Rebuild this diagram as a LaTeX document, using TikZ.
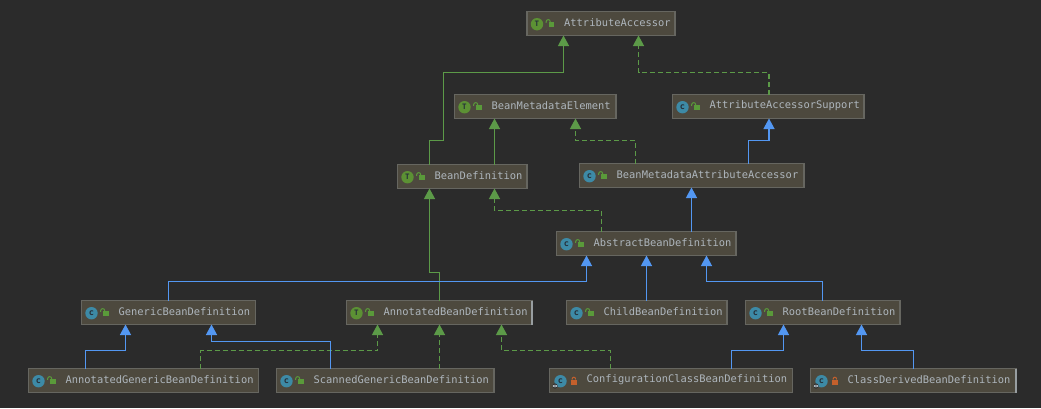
\documentclass[tikz,border=0pt]{standalone}
\usepackage{fontspec}
\setmonofont{DejaVu Sans Mono}
\usetikzlibrary{arrows.meta}
\definecolor{canvas}{HTML}{2B2B2B}
\definecolor{boxfill}{HTML}{4D493E}
\definecolor{boxline}{HTML}{666660}
\definecolor{labelgrey}{HTML}{AEB6BD}
\definecolor{relgreen}{HTML}{5C9A48}
\definecolor{relblue}{HTML}{5397F2}
\definecolor{ifacegreen}{HTML}{5C9134}
\definecolor{classteal}{HTML}{3D8AA6}
\definecolor{lockgreen}{HTML}{5A9A3A}
\definecolor{lockorange}{HTML}{C4602C}
\definecolor{glyphdark}{HTML}{26303A}
\tikzset{
  x=1pt,y=-1pt,
  umlbox/.style={draw=boxline,fill=boxfill,line width=1.2pt,minimum height=24pt,inner sep=0pt,outer sep=0pt,rectangle},
  umltext/.style={text=labelgrey,font=\ttfamily\fontsize{10.4}{12}\selectfont,inner sep=0pt},
  glyph/.style={text=glyphdark,inner sep=0pt,font=\ttfamily\bfseries\fontsize{#1}{9}\selectfont},
  relation/.style={line width=1.25pt,-{Triangle[width=11pt,length=10.5pt]}},
  extends/.style={relation,color=relblue},
  inherits/.style={relation,color=relgreen},
  realizes/.style={relation,color=relgreen,dash pattern=on 5pt off 3pt},
}
% Badge for an interface
\newcommand{\ifacebadge}[1]{%
  \fill[ifacegreen] ([shift={(10,0.7)}]#1.west) circle (6.2);
  \node[glyph=7.5] at ([shift={(10,0.7)}]#1.west) {T};
}
% Badge for a class
\newcommand{\classbadge}[1]{%
  \fill[classteal] ([shift={(10,0.7)}]#1.west) circle (6.2);
  \node[glyph=8.5] at ([shift={(10,0.4)}]#1.west) {c};
}
% Badge for a class with a small eye at its lower left corner
\newcommand{\configbadge}[1]{%
  \fill[classteal] ([shift={(11,0.7)}]#1.west) circle (6.2);
  \node[glyph=8.5] at ([shift={(11,0.4)}]#1.west) {c};
  \fill[canvas] ([shift={(5.5,5.5)}]#1.west) circle (2.6);
  \fill[labelgrey] ([shift={(5.5,5.5)}]#1.west) ellipse (2.4 and 1.3);
  \fill[canvas] ([shift={(5.5,5.5)}]#1.west) circle (0.6);
}
% Open padlock: public member
\newcommand{\openlock}[1]{%
  \fill[lockgreen] ([shift={(21.5,-1.3)}]#1.west) rectangle ([shift={(27.2,3.9)}]#1.west);
  \draw[lockgreen,line width=1pt] ([shift={(19.2,-0.6)}]#1.west) -- ([shift={(19.2,-1.9)}]#1.west)
    arc[start angle=180,end angle=0,x radius=2,y radius=-2] -- ([shift={(23.2,-1.3)}]#1.west);
}
% Closed padlock: package-private member
\newcommand{\closedlock}[1]{%
  \fill[lockorange] ([shift={(21.5,-1)}]#1.west) rectangle ([shift={(27.2,4.2)}]#1.west);
  \draw[lockorange,line width=1pt] ([shift={(22.5,-1)}]#1.west)
    arc[start angle=180,end angle=0,x radius=1.85,y radius=-2.3];
}
% name, left, top, width, badge, lock, label
\newcommand{\umlnode}[7]{%
  \node[umlbox,minimum width=#4pt,anchor=north west] (#1) at (#2,#3) {};
  \node[umltext,anchor=west] (#1-label) at ([shift={(37,-0.6)}]#1.west) {#7};
  #5{#1}#6{#1}%
}
\begin{document}
\begin{tikzpicture}
  \fill[canvas] (0,0) rectangle (1041,408);
  \useasboundingbox (0,0) rectangle (1041,408);

  \umlnode{aa}{527}{11.5}{148}{\ifacebadge}{\openlock}{AttributeAccessor}
  \umlnode{bme}{454.5}{94.5}{161.5}{\ifacebadge}{\openlock}{BeanMetadataElement}
  \umlnode{aas}{672.5}{94.5}{191.5}{\classbadge}{\openlock}{AttributeAccessorSupport}
  \umlnode{bd}{397.5}{164.5}{129.5}{\ifacebadge}{\openlock}{BeanDefinition}
  \umlnode{bmaa}{579.5}{163.5}{224.5}{\classbadge}{\openlock}{BeanMetadataAttributeAccessor}
  \umlnode{abd}{556.5}{231.5}{179.5}{\classbadge}{\openlock}{AbstractBeanDefinition}
  \umlnode{gbd}{81.5}{300.5}{174}{\classbadge}{\openlock}{GenericBeanDefinition}
  \umlnode{anbd}{346.5}{300.5}{185.5}{\ifacebadge}{\openlock}{AnnotatedBeanDefinition}
  \umlnode{cbd}{566.5}{300.5}{160.5}{\classbadge}{\openlock}{ChildBeanDefinition}
  \umlnode{rbd}{745.5}{300.5}{154.5}{\classbadge}{\openlock}{RootBeanDefinition}
  \umlnode{agbd}{28.5}{368.5}{230}{\classbadge}{\openlock}{AnnotatedGenericBeanDefinition}
  \umlnode{sgbd}{276.5}{368.5}{217.5}{\classbadge}{\openlock}{ScannedGenericBeanDefinition}
  \umlnode{ccbd}{549.5}{368.5}{243}{\configbadge}{\closedlock}{ConfigurationClassBeanDefinition}
  \umlnode{cdbd}{810.5}{368.5}{205.5}{\configbadge}{\closedlock}{ClassDerivedBeanDefinition}

  % Brighter right edges on the two boxes that carry them
  \draw[line width=1.2pt,color=labelgrey!70!boxline] (anbd.north east) -- (anbd.south east);
  \draw[line width=1.2pt,color=labelgrey!70!boxline] (cdbd.north east) -- (cdbd.south east);

  % Interface inheritance
  \draw[inherits] (429.5,0 |- bd.north) -- (429.5,140.5) -- (443.5,140.5) -- (443.5,72.5) -- (563.5,72.5) -- (563.5,0 |- aa.south);
  \draw[inherits] (494.5,0 |- bd.north) -- (494.5,0 |- bme.south);
  \draw[inherits] (439.5,0 |- anbd.north) -- (439.5,272.5) -- (429.5,272.5) -- (429.5,0 |- bd.south);

  % Interface realization
  \draw[realizes] (769,0 |- aas.north) -- (769,72.5) -- (638.5,72.5) -- (638.5,0 |- aa.south);
  \draw[realizes] (635.5,0 |- bmaa.north) -- (635.5,140.5) -- (575.5,140.5) -- (575.5,0 |- bme.south);
  \draw[realizes] (601.5,0 |- abd.north) -- (601.5,210.5) -- (494.5,210.5) -- (494.5,0 |- bd.south);
  \draw[realizes] (200.5,0 |- agbd.north) -- (200.5,350.5) -- (377.5,350.5) -- (377.5,0 |- anbd.south);
  \draw[realizes] (439.5,0 |- sgbd.north) -- (439.5,0 |- anbd.south);
  \draw[realizes] (610.5,0 |- ccbd.north) -- (610.5,350.5) -- (501.5,350.5) -- (501.5,0 |- anbd.south);

  % Class inheritance
  \draw[extends] (748.5,0 |- bmaa.north) -- (748.5,140.5) -- (769,140.5) -- (769,0 |- aas.south);
  \draw[extends] (691.5,0 |- abd.north) -- (691.5,0 |- bmaa.south);
  \draw[extends] (168.5,0 |- gbd.north) -- (168.5,281.5) -- (586.5,281.5) -- (586.5,0 |- abd.south);
  \draw[extends] (646.5,0 |- cbd.north) -- (646.5,0 |- abd.south);
  \draw[extends] (822.5,0 |- rbd.north) -- (822.5,281.5) -- (706.5,281.5) -- (706.5,0 |- abd.south);
  \draw[extends] (85.5,0 |- agbd.north) -- (85.5,350.5) -- (125.5,350.5) -- (125.5,0 |- gbd.south);
  \draw[extends] (330.5,0 |- sgbd.north) -- (330.5,341.5) -- (211.5,341.5) -- (211.5,0 |- gbd.south);
  \draw[extends] (731.5,0 |- ccbd.north) -- (731.5,350.5) -- (783.5,350.5) -- (783.5,0 |- rbd.south);
  \draw[extends] (913.5,0 |- cdbd.north) -- (913.5,350.5) -- (861.5,350.5) -- (861.5,0 |- rbd.south);
\end{tikzpicture}
\end{document}
